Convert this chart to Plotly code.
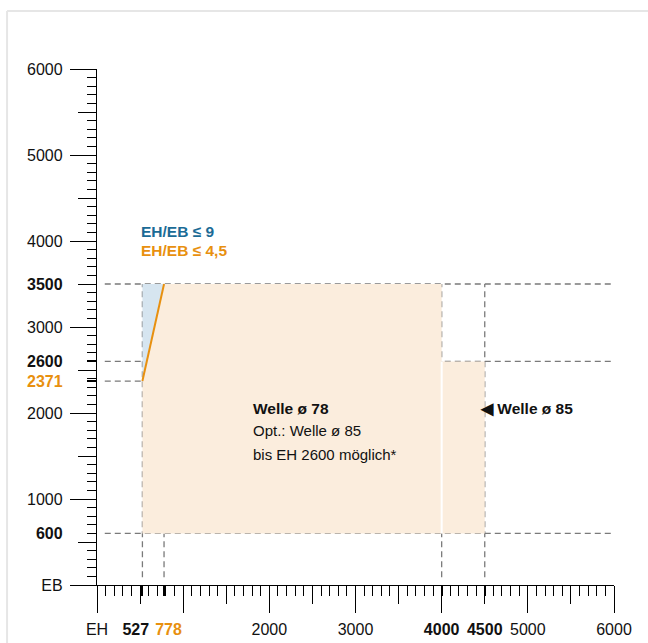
import plotly.graph_objects as go

# ---- data ----
eh_bounds = [527, 778, 4000, 4500]          # x breakpoints
eb_bounds = [600, 2371, 2600, 3500]         # y breakpoints
ratio_45 = 4.5

NB = "\u00a0"
x_label_vals = [0, 527, 778, 2000, 3000, 4000, 4500, 5000, 6000]
x_label_text = ["EH", "<b>527</b>" + NB * 3, NB * 2 + "<b><span style='color:#e8900f'>778</span></b>",
                "2000", "3000", "<b>4000</b>", "<b>4500</b>", "5000", "6000"]
y_label_vals = [0, 600, 1000, 2000, 2371, 2600, 3000, 3500, 4000, 5000, 6000]
y_label_text = ["EB", "<b>600</b>", "1000", "2000", "<b><span style='color:#e8900f'>2371</span></b>",
                "<b>2600</b>", "3000", "<b>3500</b>", "4000", "5000", "6000"]

x_half_ticks = [500, 1500, 2500, 3500, 4500, 5500]
y_half_ticks = [500, 1500, 2500, 3500, 4500, 5500]
x_extra_ticks = [527, 778, 4000, 4500]
y_extra_ticks = [2371, 2600]

BLUE = "#1b6b96"
ORANGE = "#e8900f"
BEIGE = "#fbeddd"
LBLUE = "#d6e5f0"
GRAY = "#7a7a7a"
FONT = "Liberation Sans, Arial, sans-serif"

x1, x2, x3, x4 = eh_bounds
y1, y2, y3, y4 = eb_bounds

fig = go.Figure()

# dashed guide lines (below fills)
line_start = 90
def hline(y, xa, xb):
    fig.add_shape(type="line", x0=xa, x1=xb, y0=y, y1=y, xref="x", yref="y", layer="below",
                  line=dict(color=GRAY, width=1.3, dash="6px,4px"))
def vline(x, ya, yb):
    fig.add_shape(type="line", x0=x, x1=x, y0=ya, y1=yb, xref="x", yref="y", layer="below",
                  line=dict(color=GRAY, width=1.3, dash="6px,4px"))

hline(y4, line_start, 6000)
hline(y3, line_start, 6000)
hline(y2, line_start, x1)
hline(y1, line_start, 6000)
vline(x1, line_start, y4)
vline(x2, line_start, y1)
vline(x3, line_start, y4)
vline(x4, line_start, y4)

# blue triangle (EH/EB <= 9 region)
fig.add_trace(go.Scatter(x=[x1, x1, x2, x1], y=[y2, y4, y4, y2], fill="toself", fillcolor=LBLUE,
                         mode="lines", line=dict(width=0), hoverinfo="skip"))
# beige main region
fig.add_trace(go.Scatter(x=[x1, x1, x2, x3, x3, x1], y=[y1, y2, y4, y4, y1, y1], fill="toself",
                         fillcolor=BEIGE, mode="lines", line=dict(width=0), hoverinfo="skip"))
# beige second region
fig.add_trace(go.Scatter(x=[x3, x3, x4, x4, x3], y=[y1, y3, y3, y1, y1], fill="toself",
                         fillcolor=BEIGE, mode="lines", line=dict(width=0), hoverinfo="skip"))
# white separator
fig.add_trace(go.Scatter(x=[x3, x3], y=[y1, y3], mode="lines", line=dict(color="white", width=2),
                         hoverinfo="skip"))
# orange ratio line
fig.add_trace(go.Scatter(x=[x1, x2], y=[x1 * ratio_45, x2 * ratio_45], mode="lines",
                         line=dict(color=ORANGE, width=2), hoverinfo="skip"))

# dummy traces for overlay axes
for i in (2, 3, 4):
    fig.add_trace(go.Scatter(x=[None], y=[None], xaxis=f"x{i}", yaxis=f"y{i}", showlegend=False))

# annotations
def note(x, y, text, color="#111", bold=False, size=15):
    t = f"<b>{text}</b>" if bold else text
    fig.add_annotation(x=x, y=y, text=t, showarrow=False, xanchor="left", yanchor="middle",
                       font=dict(family=FONT, size=size, color=color))

note(490, 4116, "EH/EB ≤ 9", BLUE, True, 15.5)
note(490, 3895, "EH/EB ≤ 4,5", ORANGE, True, 15.5)
note(1790, 2058, "Welle ø 78", bold=True, size=15.5)
note(1790, 1791, "Opt.: Welle ø 85")
note(1790, 1523, "bis EH 2600 möglich*")
note(4420, 2058, "◀ Welle ø 85", bold=True, size=15.5)

# frame
fig.add_shape(type="line", xref="paper", yref="paper", x0=-0.174, x1=1.08, y0=1.1124, y1=1.1124,
              line=dict(color="#e6e6e6", width=2))
fig.add_shape(type="line", xref="paper", yref="paper", x0=-0.174, x1=-0.174, y0=1.1124, y1=-0.13,
              line=dict(color="#e6e6e6", width=2))

rng = [0, 6000]
tickfont = dict(family=FONT, size=16, color="#111")
common = dict(range=rng, autorange=False, showgrid=False, zeroline=False, fixedrange=True,
              automargin=False, tickangle=0)

fig.update_layout(
    template="none",
    width=648, height=643, autosize=False,
    margin=dict(l=97, r=34, t=69, b=58),
    paper_bgcolor="white", plot_bgcolor="white", showlegend=False,
    xaxis=dict(**common, showline=True, linecolor="black", linewidth=1.4,
               tickmode="array", tickvals=x_label_vals, ticktext=x_label_text,
               ticks="outside", ticklen=26, tickcolor="rgba(0,0,0,0)", ticklabelstandoff=4,
               tickfont=tickfont),
    yaxis=dict(**common, showline=True, linecolor="black", linewidth=1.4,
               tickmode="array", tickvals=y_label_vals, ticktext=y_label_text,
               ticks="outside", ticklen=26, tickcolor="rgba(0,0,0,0)", ticklabelstandoff=4,
               tickfont=tickfont),
    xaxis2=dict(**common, overlaying="x", anchor="y2", side="bottom", showticklabels=False,
                tickmode="linear", tick0=0, dtick=1000, ticks="outside", ticklen=27, tickwidth=1.3,
                tickcolor="black",
                minor=dict(ticks="outside", ticklen=10, tickwidth=1.2, tickcolor="black",
                           tick0=0, dtick=100, showgrid=False)),
    yaxis2=dict(**common, overlaying="y", anchor="x2", side="left", showticklabels=False,
                tickmode="linear", tick0=0, dtick=1000, ticks="outside", ticklen=26, tickwidth=1.3,
                tickcolor="black",
                minor=dict(ticks="outside", ticklen=9, tickwidth=1.2, tickcolor="black",
                           tick0=0, dtick=100, showgrid=False)),
    xaxis3=dict(**common, overlaying="x", anchor="y3", side="bottom", showticklabels=False,
                tickmode="array", tickvals=x_half_ticks, ticks="outside", ticklen=18,
                tickwidth=1.3, tickcolor="black"),
    yaxis3=dict(**common, overlaying="y", anchor="x3", side="left", showticklabels=False,
                tickmode="array", tickvals=y_half_ticks, ticks="outside", ticklen=18,
                tickwidth=1.3, tickcolor="black"),
    xaxis4=dict(**common, overlaying="x", anchor="y4", side="bottom", showticklabels=False,
                tickmode="array", tickvals=x_extra_ticks, ticks="outside", ticklen=10,
                tickwidth=1.6, tickcolor="black"),
    yaxis4=dict(**common, overlaying="y", anchor="x4", side="left", showticklabels=False,
                tickmode="array", tickvals=y_extra_ticks, ticks="outside", ticklen=9,
                tickwidth=1.6, tickcolor="black"),
)

fig.write_html("out.html", config={"displayModeBar": False},
               post_script="document.body.style.margin='0';document.body.style.overflow='hidden';")
